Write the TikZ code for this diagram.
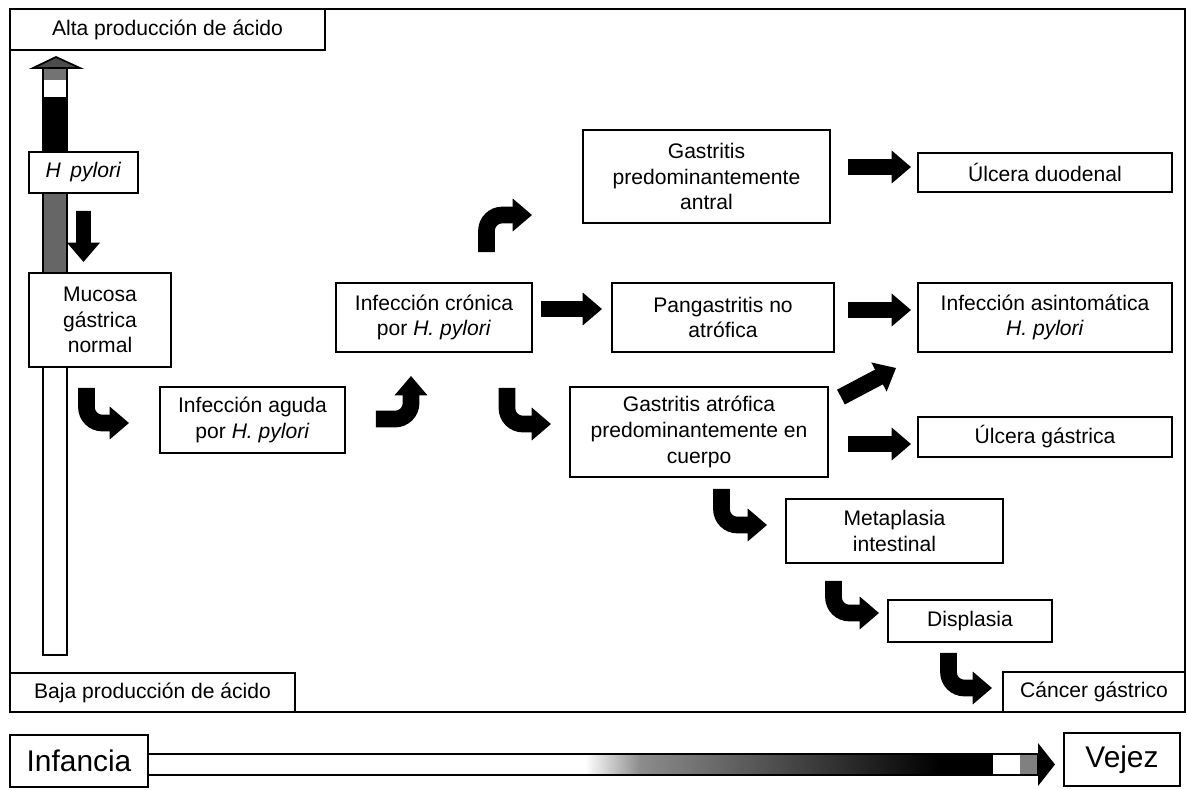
\documentclass[tikz,border=0pt]{standalone}
\usepackage{fontspec}
\setmainfont{Liberation Sans}
\usetikzlibrary{arrows.meta,calc}

\begin{document}
\begin{tikzpicture}[
        x=0.02cm, y=-0.02cm,
        outerFrame/.style={
            line width=1.1pt
        },
        stage/.style={
            rectangle,
            draw,
            line width=1.1pt,
            fill=white,
            align=center,
            inner sep=0pt,
            font=\fontsize{12}{14.7}\selectfont
        },
        ageBox/.style={
            stage,
            font=\fontsize{17}{20}\selectfont
        },
        fatArrow/.style={
            line width=9.5pt,
            -{Triangle[length=11pt,width=18pt]},
            rounded corners=9pt
        },
        barLine/.style={
            line width=1pt
        }
    ]

        \useasboundingbox (0,0) rectangle (1187,789);

        \draw[outerFrame] (10,9) rectangle (1185,712);

        % acid bar on the left
        \fill[black!55] (43,68) rectangle (67,80);
        \fill[black] (43,97) rectangle (67,152);
        \fill[black!60] (43,193) rectangle (67,273);
        \draw[barLine] (43,68) rectangle (67,655);
        \filldraw[fill=black!70, draw=black, barLine] (33,68) -- (56,57) -- (80,68) -- cycle;

        % age bar at the bottom
        \shade[left color=white, right color=black!45] (585,754) rectangle (640,775);
        \shade[left color=black!45, right color=black!65] (640,754) rectangle (750,775);
        \shade[left color=black!65, right color=black] (750,754) rectangle (940,775);
        \fill[black] (940,754) rectangle (993,775);
        \fill[black!50] (1020,754) rectangle (1038,775);
        \draw[barLine] (148,754) rectangle (1038,775);
        \fill[black] (1038,743) -- (1055,764.5) -- (1038,786) -- cycle;

        \node[stage, minimum width=6.30cm, minimum height=0.82cm] (alta) at (167.5,29.5) {Alta producción de ácido};
        \node[stage, minimum width=5.70cm, minimum height=0.78cm] (baja) at (152.5,692.5) {Baja producción de ácido};
        \node[stage, minimum width=2.18cm, minimum height=0.82cm] (hpy) at (83.5,172.5) {\textit{H\hspace{0.45em}pylori}};
        \node[stage, minimum width=2.84cm, minimum height=1.88cm] (muc) at (100,320) {Mucosa\\gástrica\\normal};
        \node[stage, minimum width=3.70cm, minimum height=1.32cm] (agu) at (252.5,420) {Infección aguda\\por \textit{H. pylori}};
        \node[stage, minimum width=3.92cm, minimum height=1.38cm] (cro) at (434,317.5) {Infección crónica\\por \textit{H. pylori}};
        \node[stage, minimum width=4.94cm, minimum height=1.86cm] (ant) at (706.5,176.5) {Gastritis\\predominantemente\\antral};
        \node[stage, minimum width=4.44cm, minimum height=1.38cm] (pan) at (723,317.5) {Pangastritis no\\atrófica};
        \node[stage, minimum width=5.16cm, minimum height=1.80cm] (atr) at (699,432) {Gastritis atrófica\\predominantemente en\\cuerpo};
        \node[stage, minimum width=5.08cm, minimum height=0.78cm] (duo) at (1045,172.5) {Úlcera duodenal};
        \node[stage, minimum width=5.08cm, minimum height=1.38cm] (asi) at (1045,317.5) {Infección asintomática\\\textit{H. pylori}};
        \node[stage, minimum width=5.08cm, minimum height=0.80cm] (ulg) at (1045,437) {Úlcera gástrica};
        \node[stage, minimum width=4.34cm, minimum height=1.28cm] (met) at (894.5,531) {Metaplasia\\intestinal};
        \node[stage, minimum width=3.28cm, minimum height=0.84cm] (dis) at (970,621) {Displasia};
        \node[stage, minimum width=3.64cm, minimum height=0.80cm] (can) at (1094,692) {Cáncer gástrico};
        \node[ageBox, minimum width=2.76cm, minimum height=1.04cm] (inf) at (79,761) {Infancia};
        \node[ageBox, minimum width=2.32cm, minimum height=1.06cm] (vej) at (1122,759.5) {Vejez};

        \draw[fatArrow, line width=8.5pt] ($(hpy.south)+(0,17)$) -- ($(muc.north)+(-16.5,-10)$);
        \draw[fatArrow] ($(muc.south)+(-13.5,20)$) |- ($(agu.west)+(-30,3)$);
        \draw[fatArrow] ($(agu.east)+(30,-1)$) -| ($(cro.south)+(-23,23)$);
        \draw[fatArrow] ($(cro.north)+(52.5,-30)$) |- ($(ant.west)+(-50,38.5)$);
        \draw[fatArrow] ($(cro.east)+(8,-8.5)$) -- ($(pan.west)+(-9,-8.5)$);
        \draw[fatArrow] ($(cro.south)+(73,35)$) |- ($(atr.west)+(-18,-8)$);
        \draw[fatArrow] ($(ant.east)+(17,-9.5)$) -- ($(duo.west)+(-6,-5.5)$);
        \draw[fatArrow] ($(pan.east)+(13,-7.5)$) -- ($(asi.west)+(-6,-7.5)$);
        \draw[fatArrow] ($(atr.north east)+(12,11)$) -- ($(asi.south west)+(-21,15)$);
        \draw[fatArrow] ($(atr.east)+(19,12)$) -- ($(ulg.west)+(-6,7)$);
        \draw[fatArrow] ($(atr.south)+(22.5,11)$) |- ($(met.west)+(-18,-6)$);
        \draw[fatArrow] ($(met.south)+(-61,17)$) |- ($(dis.west)+(-8,-8)$);
        \draw[fatArrow] ($(dis.south)+(-21.5,10)$) |- ($(can.west)+(-10,-4)$);

    \end{tikzpicture}
\end{document}
